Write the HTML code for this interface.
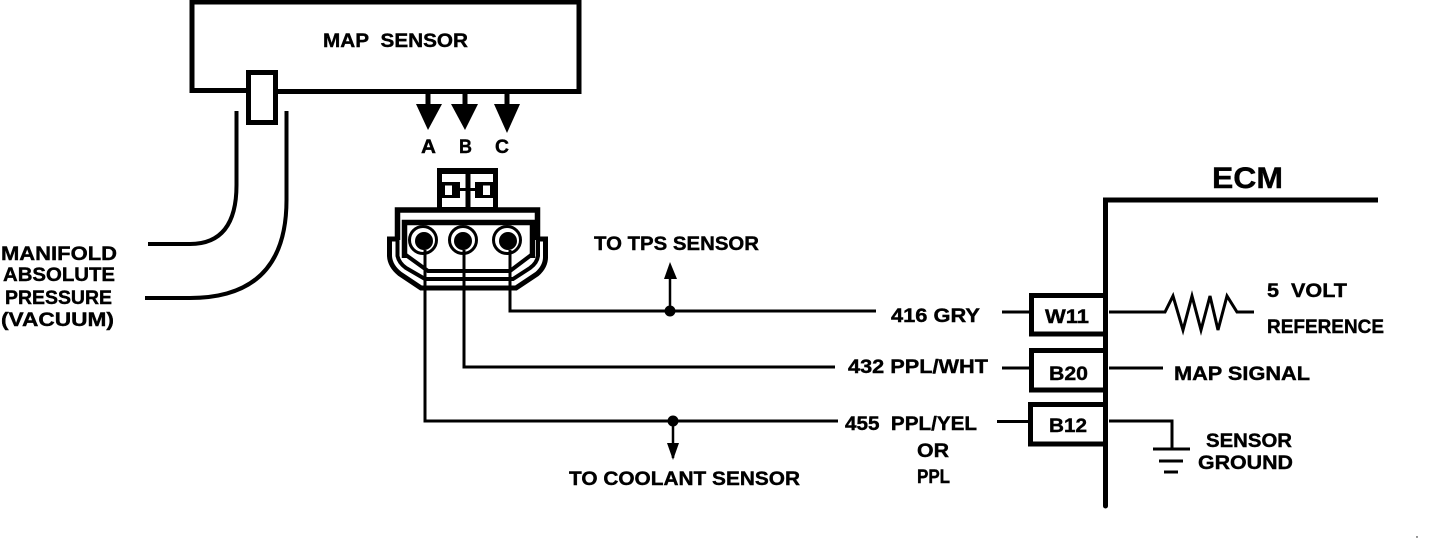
<!DOCTYPE html>
<html><head><meta charset="utf-8"><style>
html,body{margin:0;padding:0;background:#fff}
svg{display:block}
text{font-family:"Liberation Sans",sans-serif;font-weight:bold;fill:#000;font-size:19px;stroke:#000;stroke-width:.4px}
</style></head><body>
<svg width="1440" height="538" viewBox="0 0 1440 538" xmlns="http://www.w3.org/2000/svg">
<g fill="none" stroke="#000" stroke-linecap="butt">
<!-- MAP box -->
<path d="M578 2H192V90.5H246M276 91.5H579V0" stroke-width="5"/>
<rect x="248.500" y="72.500" width="27" height="50" fill="#fff" stroke-width="5"/>
<!-- hoses -->
<path d="M236.500 111V185Q236.500 244 190 244H148" stroke-width="4"/>
<path d="M286.500 111V200Q286.500 298 190 298H145" stroke-width="4"/>
<!-- Arrow stems -->
<path d="M428 94V108M465 94V108M507 94V108" stroke-width="5"/>
</g>
<!-- Connector tab -->
<rect x="437" y="168" width="61" height="40" fill="#000"/>
<rect x="442" y="174" width="51" height="33" fill="#fff"/>
<path fill="#000" fill-rule="evenodd" d="M442 182H460V198H442ZM445 185.500V195H452V185.500ZM475 182H493V198H475ZM483 185.500V195H490V185.500Z"/>
<path fill="#000" d="M465.500 173H470.500V208H465.500ZM460 188H475V191H460Z"/>
<g fill="none" stroke="#000" stroke-linecap="butt">
<!-- Connector body -->
<path d="M397.500 240V210H537.500V240" stroke-width="5.500"/>
<path d="M404.500 258V222.500H532.500V258" stroke-width="5.500"/>
<path d="M404.500 254L428 271H510L532.500 254" stroke-width="4"/>
<path d="M397.500 238V256Q399 263 406 268L425 279H513L530 268Q537 263 538 256V238" stroke-width="4"/>
<path d="M397 239H389.500V256Q390 266 400 274L421 288H516L537 274Q546 266 545.500 256V239H538" stroke-width="5"/>
<circle cx="423" cy="240" r="13.500" stroke-width="3"/>
<circle cx="463" cy="240" r="13.500" stroke-width="3"/>
<circle cx="507" cy="240" r="13.500" stroke-width="3"/>
<!-- Wires -->
<path d="M425 250V421H838" stroke-width="3"/>
<path d="M464 250V367H835" stroke-width="3"/>
<path d="M510 250V311H876" stroke-width="3"/>
<path d="M670 311V270M673 421V458" stroke-width="2.500"/>
<path d="M1002 312H1032M1002 368H1032M997 421.500H1030" stroke-width="3"/>
<!-- ECM -->
<path d="M1378 200H1105.500V506" stroke-width="5"/>
<circle cx="1105.500" cy="506" r="2.500" fill="#000" stroke="none"/>
<!-- Pin boxes -->
<path d="M1106 295.500H1031.500V334H1106" stroke-width="5"/>
<path d="M1106 350.500H1031.500V390H1106" stroke-width="5"/>
<path d="M1106 404.500H1030.500V444H1106" stroke-width="5"/>
<!-- Right side -->
<path d="M1109 312H1165L1173 296L1183 330L1192 296L1201 330L1210 296L1218 330L1227 296L1237 312H1254" stroke-width="3"/>
<path d="M1109 368H1163" stroke-width="3"/>
<path d="M1109 421H1172V448" stroke-width="3"/>
<path d="M1153 449H1190" stroke-width="3"/>
<path d="M1159 461H1183" stroke-width="3"/>
<path d="M1164 472H1178" stroke-width="3"/>
</g>
<!-- Arrowheads / dots -->
<g fill="#000">
<path d="M416 104H442L428 130Z"/>
<path d="M451 104H478L465 130Z"/>
<path d="M494 104H520L507 133Z"/>
<path d="M670 262L664 279H677Z"/>
<path d="M673 460L667 443H679Z"/>
<circle cx="670" cy="311" r="5.500"/>
<circle cx="673" cy="421" r="5.500"/>
<circle cx="424" cy="241" r="9"/>
<circle cx="463" cy="241" r="9"/>
<circle cx="508" cy="241" r="9"/>
<circle cx="1417" cy="537" r=".7"/>
</g>
<!-- Labels -->
<text x="323" y="47" textLength="145" lengthAdjust="spacingAndGlyphs">MAP&#160;&#160;SENSOR</text>
<text x="421" y="153" textLength="15" lengthAdjust="spacingAndGlyphs">A</text>
<text x="459" y="153" textLength="13" lengthAdjust="spacingAndGlyphs">B</text>
<text x="495" y="153" textLength="14" lengthAdjust="spacingAndGlyphs">C</text>
<text x="1212" y="188" style="font-size:30px" textLength="71" lengthAdjust="spacingAndGlyphs">ECM</text>
<text x="1" y="260" textLength="116" lengthAdjust="spacingAndGlyphs">MANIFOLD</text>
<text x="3" y="281" textLength="112" lengthAdjust="spacingAndGlyphs">ABSOLUTE</text>
<text x="5" y="304" textLength="107" lengthAdjust="spacingAndGlyphs">PRESSURE</text>
<text x="1" y="326" textLength="113" lengthAdjust="spacingAndGlyphs">(VACUUM)</text>
<text x="594" y="250" textLength="165" lengthAdjust="spacingAndGlyphs">TO TPS SENSOR</text>
<text x="891" y="322" textLength="89" lengthAdjust="spacingAndGlyphs">416 GRY</text>
<text x="848" y="373" textLength="140" lengthAdjust="spacingAndGlyphs">432 PPL/WHT</text>
<text x="845" y="430" textLength="132" lengthAdjust="spacingAndGlyphs">455&#160;&#160;PPL/YEL</text>
<text x="917" y="457" textLength="32" lengthAdjust="spacingAndGlyphs">OR</text>
<text x="917" y="483" textLength="33" lengthAdjust="spacingAndGlyphs">PPL</text>
<text x="569" y="485" textLength="231" lengthAdjust="spacingAndGlyphs">TO COOLANT SENSOR</text>
<text x="1045" y="323" textLength="44" lengthAdjust="spacingAndGlyphs">W11</text>
<text x="1049" y="380" textLength="39" lengthAdjust="spacingAndGlyphs">B20</text>
<text x="1049" y="432" textLength="38" lengthAdjust="spacingAndGlyphs">B12</text>
<text x="1267" y="297" textLength="80" lengthAdjust="spacingAndGlyphs">5&#160;&#160;VOLT</text>
<text x="1267" y="333" textLength="117" lengthAdjust="spacingAndGlyphs">REFERENCE</text>
<text x="1174" y="380" textLength="136" lengthAdjust="spacingAndGlyphs">MAP SIGNAL</text>
<text x="1206" y="447" textLength="86" lengthAdjust="spacingAndGlyphs">SENSOR</text>
<text x="1198" y="469" textLength="95" lengthAdjust="spacingAndGlyphs">GROUND</text>
</svg>
</body></html>
